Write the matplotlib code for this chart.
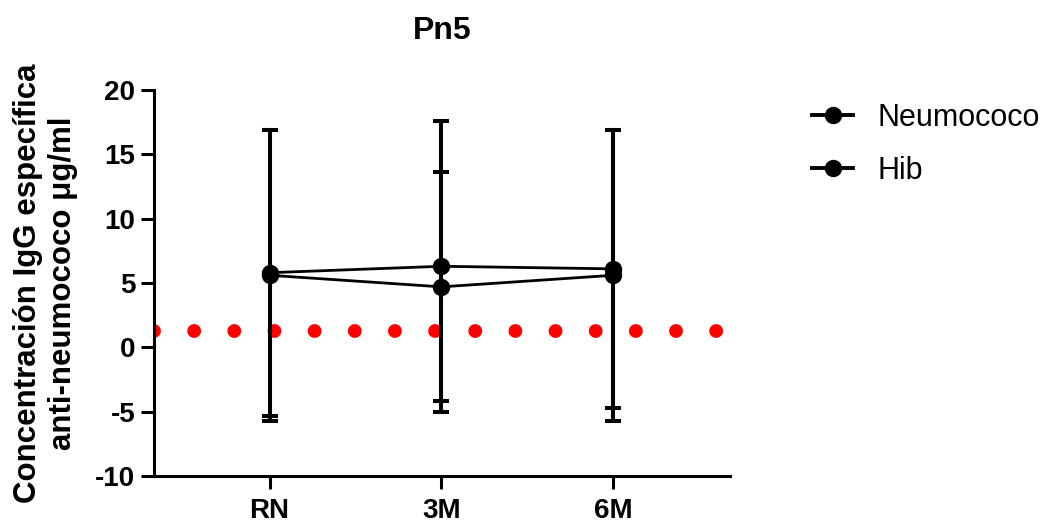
import matplotlib.pyplot as plt
from matplotlib.lines import Line2D

plt.rcParams['font.family'] = ['Liberation Sans', 'DejaVu Sans']
plt.rcParams['axes.unicode_minus'] = False

# data (mean +/- SD)
times = ["RN", "3M", "6M"]
neumo_mean = [5.8, 6.3, 6.1]
neumo_sd = [11.1, 11.3, 10.8]
hib_mean = [5.6, 4.7, 5.6]
hib_sd = [11.3, 8.9, 11.3]
threshold = 1.25

yticks = [-10, -5, 0, 5, 10, 15, 20]

fig = plt.figure(figsize=(10.45, 5.29), dpi=100)
ax = fig.add_axes([154/1045, 53/529, 576/1045, 386/529])

x = list(range(len(times)))

# red reference line (dotted)
ax.axhline(threshold, color='#ff0000', lw=10.0, linestyle=(0, (0.001, 2.89)),
           dash_capstyle='round', zorder=1)

for mean, sd, lab in [(neumo_mean, neumo_sd, "Neumococo"), (hib_mean, hib_sd, "Hib")]:
    ax.errorbar(x, mean, yerr=sd, fmt='none', ecolor='black', elinewidth=2.9,
                capsize=6, capthick=2.9, zorder=2)
    ax.plot(x, mean, color='black', lw=2, marker='o', markersize=11.5, zorder=3, label=lab)

ax.set_xlim(-0.673, 2.68)
ax.set_ylim(-10, 20)
ax.set_xticks(x)
ax.set_xticklabels(times)
ax.set_yticks(yticks)

for s in ['top', 'right']:
    ax.spines[s].set_visible(False)
for s in ['left', 'bottom']:
    ax.spines[s].set_linewidth(2.2)

ax.tick_params(axis='both', length=9.5, width=2.2, labelsize=20)
ax.tick_params(axis='y', pad=4)
ax.tick_params(axis='x', pad=6)
for t in ax.get_xticklabels() + ax.get_yticklabels():
    t.set_fontweight('bold')

ax.set_ylabel("Concentración IgG específica\nanti-neumococo μg/ml",
              fontsize=22.5, fontweight='bold')
ax.yaxis.set_label_coords(-0.132, 0.5)

ax.set_title("Pn5", fontsize=23, fontweight='bold', pad=37)

handles = [Line2D([], [], color='black', lw=2.8, marker='o', markersize=11.5),
           Line2D([], [], color='black', lw=2.8, marker='o', markersize=11.5)]
fig.legend(handles, ["Neumococo", "Hib"], loc='upper left',
           bbox_to_anchor=(812/1045, 1 - 103/529), frameon=False, fontsize=22,
           handlelength=1.35, handletextpad=0.8, labelspacing=0.74, borderpad=0,
           borderaxespad=0)

fig.savefig("out.png", dpi=100)
